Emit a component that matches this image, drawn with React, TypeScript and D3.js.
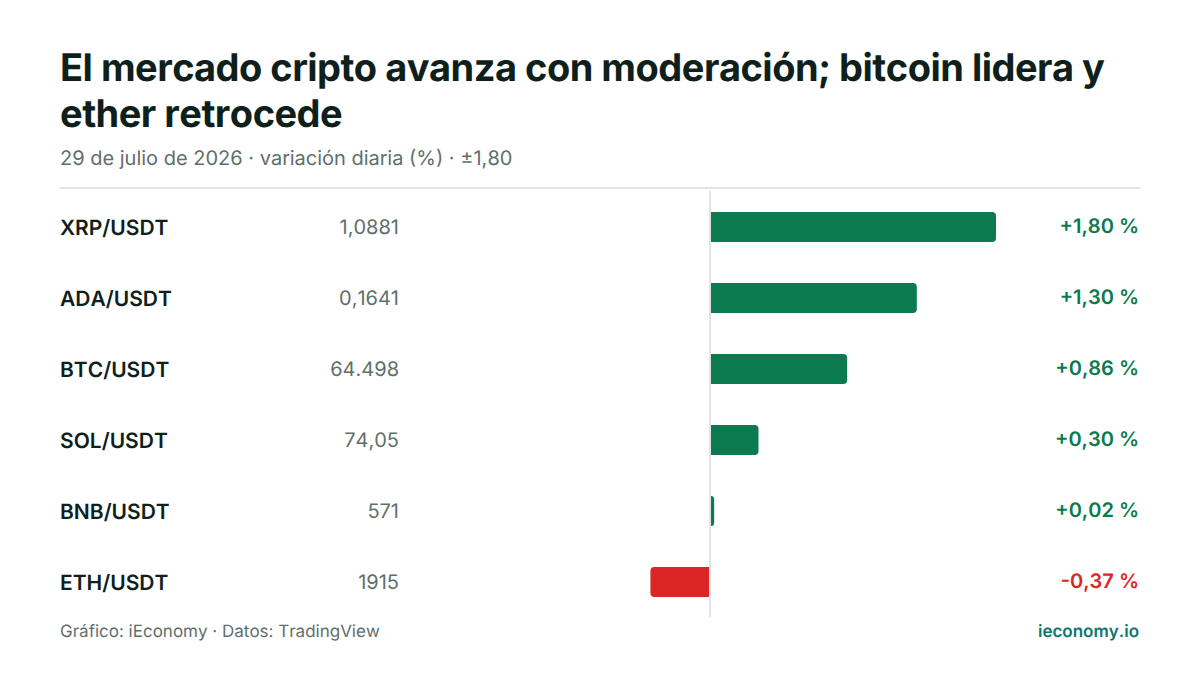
import { scaleLinear } from "d3";

const pairs = ["XRP/USDT", "ADA/USDT", "BTC/USDT", "SOL/USDT", "BNB/USDT", "ETH/USDT"];
const prices = ["1,0881", "0,1641", "64.498", "74,05", "571", "1915"];
const changes = [1.8, 1.3, 0.86, 0.3, 0.02, -0.37];
const changeLabels = ["+1,80 %", "+1,30 %", "+0,86 %", "+0,30 %", "+0,02 %", "-0,37 %"];

const green = "#0b7a4f";
const red = "#dc2626";
const ink = "#0f1f1c";
const muted = "#5f6f6b";

const zeroX = 710;
const gap = 1; // bars stop just short of the zero line
const barLength = scaleLinear().domain([0, 1.8]).range([0, 285]);
const rowY = scaleLinear().domain([0, 5]).range([227, 582]);
const barH = 30;

// rounded on the far end only, square against the zero line
const barPath = (v: number, y: number) => {
  const dir = v >= 0 ? 1 : -1;
  const x0 = zeroX + dir * gap;
  const len = barLength(Math.abs(v));
  const x1 = x0 + dir * len;
  const r = Math.min(4, len);
  const top = y - barH / 2;
  const bot = y + barH / 2;
  return `M${x0},${top}H${x1 - dir * r}Q${x1},${top} ${x1},${top + r}V${bot - r}Q${x1},${bot} ${x1 - dir * r},${bot}H${x0}Z`;
};

export default function App() {
  return (
    <svg
      width={1200}
      height={675}
      style={{
        position: "absolute",
        left: 0,
        top: 0,
        background: "#fff",
        textRendering: "geometricPrecision",
        fontKerning: "none",
      }}
      fontFamily="Inter, sans-serif"
    >
      <text x={60} y={81} fontSize={38} fontWeight={700} fill={ink} letterSpacing={-0.5}>
        El mercado cripto avanza con moderación; bitcoin lidera y
      </text>
      <text x={60} y={127} fontSize={38} fontWeight={700} fill={ink} letterSpacing={-0.5}>
        ether retrocede
      </text>
      <text x={60} y={165} fontSize={20} fill={muted}>
        29 de julio de 2026 · variación diaria (%) · ±1,80
      </text>
      <line x1={60} x2={1140} y1={188} y2={188} stroke="#e0e5e3" strokeWidth={2} />
      <line x1={zeroX} x2={zeroX} y1={191} y2={617} stroke="#e0e5e3" strokeWidth={2} />
      {pairs.map((p, i) => {
        const y = rowY(i);
        const c = changes[i] >= 0 ? green : red;
        return (
          <g key={p}>
            <text x={60} y={y + 7.5} fontSize={21} fontWeight={600} fill={ink}>
              {p}
            </text>
            <text x={399} y={y + 6.5} fontSize={20} textAnchor="end" fill={muted}>
              {prices[i]}
            </text>
            <path d={barPath(changes[i], y)} fill={c} />
            <text x={1139} y={y + 6} fontSize={20} fontWeight={600} textAnchor="end" fill={c}>
              {changeLabels[i]}
            </text>
          </g>
        );
      })}
      <text x={60} y={637} fontSize={17} fill={muted}>
        Gráfico: iEconomy · Datos: TradingView
      </text>
      <text x={1139} y={637} fontSize={17} fontWeight={600} textAnchor="end" fill="#0f766e">
        ieconomy.io
      </text>
    </svg>
  );
}
